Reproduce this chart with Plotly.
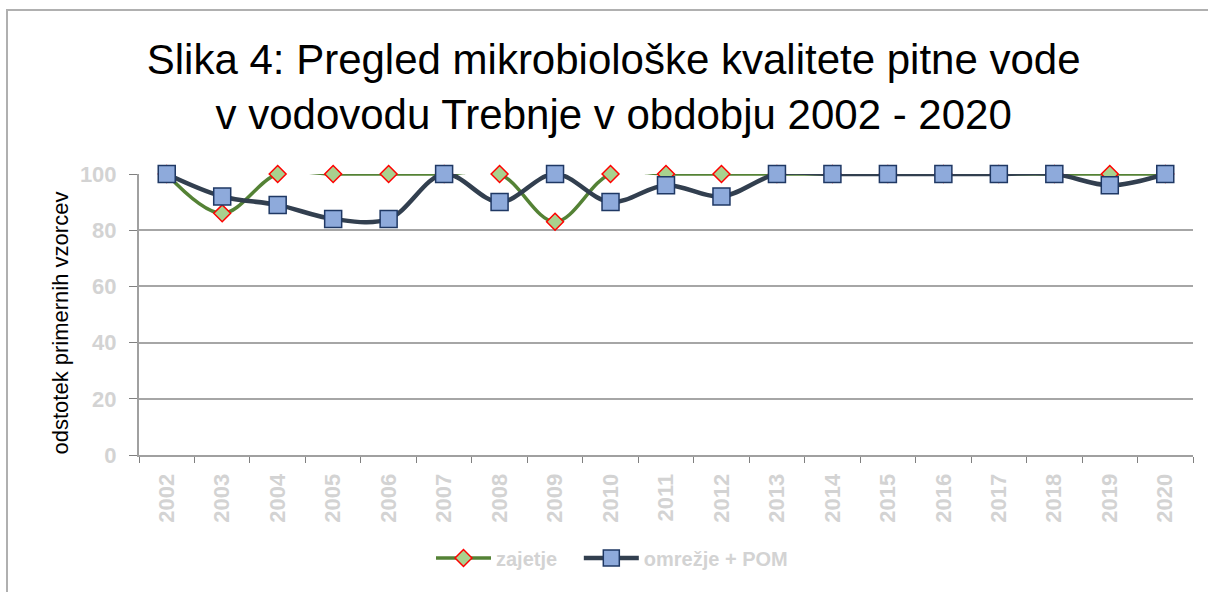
import plotly.graph_objects as go

years = [str(y) for y in range(2002, 2021)]
zajetje = [100, 86, 100, 100, 100, 100, 100, 83, 100, 100, 100, 100, 100, 100, 100, 100, 100, 100, 100]
omrezje = [100, 92, 89, 84, 84, 100, 90, 100, 90, 96, 92, 100, 100, 100, 100, 100, 100, 96, 100]
y_ticks = [0, 20, 40, 60, 80, 100]
series_names = ["zajetje", "omrežje + POM"]

FONT = "Liberation Sans Narrow, Arial Narrow, Liberation Sans, Arial, sans-serif"
GRAY = "#d3d3d3"

W, H = 1208, 592
L, R, T, B = 139, 15, 174, 137
PW, PH = W - L - R, H - T - B

fig = go.Figure()
fig.add_trace(go.Scatter(
    x=years, y=zajetje, name=series_names[0] + "\u00a0\u00a0\u00a0", mode="lines+markers",
    line=dict(color="#548235", width=3.5, shape="spline", smoothing=1),
    marker=dict(symbol="diamond", size=13, color="#a9d18e", line=dict(color="#ff0000", width=1.5)),
    cliponaxis=False,
))
fig.add_trace(go.Scatter(
    x=years, y=omrezje, name=series_names[1], mode="lines+markers",
    line=dict(color="#323f4f", width=4.5, shape="spline", smoothing=1),
    marker=dict(symbol="square", size=17, color="#8eaadb", line=dict(color="#1f3864", width=1.5)),
    cliponaxis=False,
))

fig.update_layout(
    width=W, height=H,
    paper_bgcolor="white", plot_bgcolor="white",
    margin=dict(l=L, r=R, t=T, b=B),
    title=dict(
        text="Slika 4: Pregled mikrobiološke kvalitete pitne vode<br>v vodovodu Trebnje v obdobju 2002 - 2020",
        x=0.508, xanchor="center", y=1 - 74 / H, yanchor="middle",
        font=dict(family=FONT, size=42, color="#000000"),
    ),
    showlegend=True,
    legend=dict(
        orientation="h", x=(612 - L) / PW, xanchor="center", y=-(558 - T - PH) / PH, yanchor="middle",
        font=dict(family=FONT, size=20, color=GRAY, weight="bold"),
        itemwidth=55, tracegroupgap=0,
    ),
    xaxis=dict(
        type="category", range=[-0.5, 18.5],
        tickson="boundaries", ticks="outside", ticklen=6, tickcolor="#808080",
        showline=True, linecolor="#a0a0a0", linewidth=2,
        showgrid=False, tickangle=-90,
        tickfont=dict(family=FONT, size=22, color=GRAY, weight="bold"),
        ticklabelstandoff=8,
    ),
    yaxis=dict(
        range=[0, 100], tickvals=y_ticks, ticks="outside", ticklen=8, tickcolor="#808080",
        showline=True, linecolor="#a0a0a0", linewidth=2,
        showgrid=True, gridcolor="#a6a6a6", gridwidth=1.5,
        zeroline=False,
        tickfont=dict(family=FONT, size=22, color=GRAY, weight="bold"),
        ticklabelstandoff=8,
    ),
    annotations=[dict(
        text="odstotek primernih vzorcev", textangle=-90,
        xref="paper", yref="paper", x=0, y=0.5, xanchor="center", yanchor="middle",
        xshift=60 - L, yshift=-9, showarrow=False,
        font=dict(family=FONT, size=22, color="#000000"),
    )],
    shapes=[dict(
        type="rect", xref="paper", yref="paper",
        x0=-(L - 7) / PW, x1=(W - L + 10) / PW,
        y0=-(B + 20) / PH, y1=(H - 10 - B) / PH,
        line=dict(color="#b0b0b0", width=2), layer="below",
    )],
)

fig.write_html(
    "out.html",
    config={"displayModeBar": False},
    post_script="document.body.style.margin='0';document.body.style.overflow='hidden';",
)
